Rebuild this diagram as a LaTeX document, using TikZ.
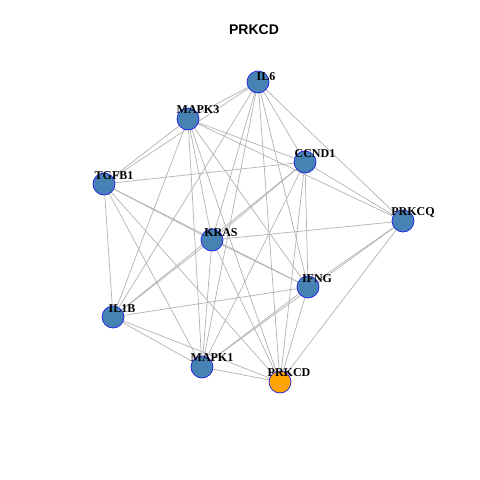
\documentclass[tikz,border=0pt]{standalone}
\usepackage{fontspec}
\setmainfont{Liberation Serif}
\newfontfamily\titlefont{Liberation Sans}
\definecolor{steel}{RGB}{70,130,180}
\definecolor{vborder}{RGB}{30,30,230}
\definecolor{orng}{RGB}{255,165,0}
\definecolor{edgegray}{RGB}{178,178,178}
\begin{document}
\begin{tikzpicture}[x=1pt,y=-1pt,
  vtx/.style={circle,draw=vborder,line width=0.7pt,fill=steel,minimum size=22pt,inner sep=0pt},
  seed/.style={vtx,fill=orng},
  lab/.style={font=\bfseries\fontsize{12}{12}\selectfont,inner sep=0pt},
  edge/.style={draw=edgegray,line width=0.7pt}]
\useasboundingbox (0,0) rectangle (480,480);
\node[font=\titlefont\bfseries\fontsize{14}{14}\selectfont] (title) at (254,30) {PRKCD};
\coordinate (IL6) at (258,82);
\coordinate (MAPK3) at (188,119);
\coordinate (CCND1) at (305,162);
\coordinate (TGFB1) at (104,184);
\coordinate (PRKCQ) at (403,221);
\coordinate (KRAS) at (212,240);
\coordinate (IFNG) at (308,287);
\coordinate (IL1B) at (113,317);
\coordinate (MAPK1) at (202,367);
\coordinate (PRKCD) at (280,382);
% edges
\foreach \a/\b in {IL6/MAPK3,IL6/TGFB1,IL6/CCND1,IL6/PRKCQ,IL6/KRAS,IL6/IL1B,IL6/MAPK1,IL6/IFNG,IL6/PRKCD,
  MAPK3/TGFB1,MAPK3/CCND1,MAPK3/PRKCQ,MAPK3/KRAS,MAPK3/IL1B,MAPK3/MAPK1,MAPK3/PRKCD,MAPK3/IFNG,
  TGFB1/CCND1,TGFB1/KRAS,TGFB1/IFNG,TGFB1/IL1B,TGFB1/MAPK1,TGFB1/PRKCD,
  CCND1/PRKCQ,CCND1/KRAS,CCND1/IL1B,CCND1/MAPK1,CCND1/IFNG,CCND1/PRKCD,
  PRKCQ/KRAS,PRKCQ/IFNG,PRKCQ/MAPK1,PRKCQ/PRKCD,
  KRAS/IL1B,KRAS/IFNG,KRAS/MAPK1,KRAS/PRKCD,
  IFNG/IL1B,IFNG/MAPK1,IFNG/PRKCD,
  IL1B/MAPK1,IL1B/PRKCD,MAPK1/PRKCD}
  \draw[edge] (\a) -- (\b);
% vertices
\foreach \n in {IL6,MAPK3,CCND1,TGFB1,PRKCQ,KRAS,IFNG,IL1B,MAPK1}
  \node[vtx] (v\n) at (\n) {};
\node[seed] (vPRKCD) at (PRKCD) {};
% labels
\node[lab] (lIL6) at (266,77) {IL6};
\node[lab] (lMAPK3) at (198,110) {MAPK3};
\node[lab] (lCCND1) at (315,154) {CCND1};
\node[lab] (lTGFB1) at (114,176) {TGFB1};
\node[lab] (lPRKCQ) at (413,212) {PRKCQ};
\node[lab] (lKRAS) at (221,233) {KRAS};
\node[lab] (lIFNG) at (317,279) {IFNG};
\node[lab] (lIL1B) at (122,309) {IL1B};
\node[lab] (lMAPK1) at (212,358) {MAPK1};
\node[lab] (lPRKCD) at (289,373) {PRKCD};
\end{tikzpicture}
\end{document}
